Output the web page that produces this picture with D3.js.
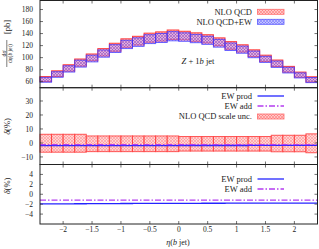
<!DOCTYPE html>
<html><head><meta charset="utf-8">
<script src="https://cdn.jsdelivr.net/npm/d3@7"></script>
<style>body{margin:0;background:#fff}svg{display:block}text{font-family:"Liberation Serif","DejaVu Serif",serif;fill:#222}</style>
</head><body>
<script>
const xEdges = [-2.4,-2.2,-2.0,-1.8,-1.6,-1.4,-1.2,-1.0,-0.8,-0.6,-0.4,-0.2,0,0.2,0.4,0.6,0.8,1.0,1.2,1.4,1.6,1.8,2.0,2.2,2.4];
const qcd = [64.5,73.5,83,92,101,109.5,118,125,129,134,136,139,137.5,135,132,127,121,116,108,99.5,91,81,72,64];
const scaleUp = [6.2,6.2,6.2,6.2,5,5,5,5,5,5,5,5,4.6,4.6,4.6,4.6,4.6,4.6,4.6,4.6,5.5,5.5,5.5,6.5];
const scaleDn = [-6.6,-6.6,-6.6,-6.6,-6.2,-6.2,-6.2,-6.2,-6.2,-6.2,-6.2,-6.2,-5.8,-5.8,-5.8,-5.8,-5.8,-5.8,-5.8,-5.8,-6.3,-6.3,-6.3,-7];
const ewProd = [-1.95,-1.95,-1.93,-1.92,-1.9,-1.9,-1.88,-1.87,-1.86,-1.85,-1.85,-1.84,-1.83,-1.83,-1.82,-1.82,-1.81,-1.81,-1.8,-1.8,-1.8,-1.8,-1.79,-1.79];
const ewAdd = [-1.2,-1.2,-1.2,-1.2,-1.2,-1.2,-1.2,-1.2,-1.2,-1.2,-1.2,-1.2,-1.2,-1.2,-1.2,-1.2,-1.2,-1.2,-1.2,-1.2,-1.2,-1.2,-1.2,-1.2];
const xTicks = [-2,-1.5,-1,-0.5,0,0.5,1,1.5,2];
const y1Ticks = [60,80,100,120,140,160,180];
const y2Ticks = [-10,0,10,20,30];
const y3Ticks = [-4,-2,0,2,4];

const W=319,H=249;
const svg=d3.select("body").append("svg").attr("width",W).attr("height",H);
const defs=svg.append("defs");
function hatch(id,bg,fg){
  const p=defs.append("pattern").attr("id",id).attr("width",3).attr("height",3).attr("patternUnits","userSpaceOnUse");
  p.append("rect").attr("width",3).attr("height",3).attr("fill",bg);
  p.append("path").attr("d","M0,0L3,3M3,0L0,3").attr("stroke",fg).attr("stroke-width",0.6);
}
hatch("red","rgba(255,180,180,0.8)","rgba(255,60,60,0.6)");
hatch("blue","rgba(170,140,255,0.35)","rgba(80,60,255,0.5)");
hatch("redL","rgba(255,200,200,1)","rgba(255,90,90,0.7)");
hatch("blueL","rgba(195,195,255,1)","rgba(80,80,255,0.65)");

const L=40,R=317.5;
const x=d3.scaleLinear().domain([-2.4,2.4]).range([L,R]);
const y1=d3.scaleLinear().domain([50,195]).range([87.7,0.5]);
const y2=d3.scaleLinear().domain([-15.4,39.5]).range([164.5,87.7]);
const y3=d3.scaleLinear().domain([-6,6]).range([224,164.5]);
const bins=qcd.map((v,i)=>({i,x0:xEdges[i],x1:xEdges[i+1],v}));

// Panel 1 bands
const g1=svg.append("g");
g1.selectAll("rect.r").data(bins).join("rect")
  .attr("x",d=>x(d.x0)).attr("width",d=>x(d.x1)-x(d.x0))
  .attr("y",d=>y1(d.v*(1+scaleUp[d.i]/100))).attr("height",d=>y1(d.v*(1+scaleDn[d.i]/100))-y1(d.v*(1+scaleUp[d.i]/100)))
  .attr("fill","url(#red)").attr("stroke","rgb(255,60,60)").attr("stroke-width",1);
g1.selectAll("rect.b").data(bins).join("rect")
  .attr("x",d=>x(d.x0)).attr("width",d=>x(d.x1)-x(d.x0))
  .attr("y",d=>y1(d.v*(1+ewProd[d.i]/100)*(1+scaleUp[d.i]/100))).attr("height",d=>y1(d.v*(1+ewProd[d.i]/100)*(1+scaleDn[d.i]/100))-y1(d.v*(1+ewProd[d.i]/100)*(1+scaleUp[d.i]/100)))
  .attr("fill","url(#blue)").attr("stroke","rgba(60,50,255,0.75)").attr("stroke-width",1);

// Panel 2 scale band + lines
const g2=svg.append("g");
g2.selectAll("rect").data(bins).join("rect")
  .attr("x",d=>x(d.x0)).attr("width",d=>x(d.x1)-x(d.x0))
  .attr("y",d=>y2(scaleUp[d.i])).attr("height",d=>y2(scaleDn[d.i])-y2(scaleUp[d.i]))
  .attr("fill","url(#redL)").attr("fill-opacity",0.8).attr("stroke","rgba(255,60,60,0.85)").attr("stroke-width",1);
function stepPath(vals,ys){
  let p="";
  vals.forEach((v,i)=>{p+=(i?"L":"M")+x(xEdges[i])+","+ys(v)+"L"+x(xEdges[i+1])+","+ys(v);});
  return p;
}
[[g2,y2],[svg.append("g"),y3]].forEach(([g,ys])=>{
  g.append("path").attr("d",stepPath(ewProd,ys)).attr("fill","none").attr("stroke","#2424ff").attr("stroke-width",1.3);
  g.append("path").attr("d",stepPath(ewAdd,ys)).attr("fill","none").attr("stroke","#b43cf0").attr("stroke-width",1.3).attr("stroke-dasharray","6,2,1.5,2");
});

// Frames and axes
const panels=[[y1,y1Ticks,0.5,87.7],[y2,y2Ticks,87.7,164.5],[y3,y3Ticks,164.5,224]];
const fmt=v=>(v<0?"\u2212":"")+Math.abs(v);
panels.forEach(([ys,ticks,t,b])=>{
  const g=svg.append("g");
  ticks.forEach(v=>{
    g.append("line").attr("x1",L).attr("x2",L+3).attr("y1",ys(v)).attr("y2",ys(v)).attr("stroke","#333").attr("stroke-width",0.7);
    g.append("line").attr("x1",R-3).attr("x2",R).attr("y1",ys(v)).attr("y2",ys(v)).attr("stroke","#333").attr("stroke-width",0.7);
    g.append("text").attr("x",33).attr("y",ys(v)+2.6).attr("text-anchor","end").attr("font-size",7.5).text(fmt(v));
  });
  xTicks.forEach(v=>{
    g.append("line").attr("x1",x(v)).attr("x2",x(v)).attr("y1",b).attr("y2",b-3).attr("stroke","#333").attr("stroke-width",0.7);
    g.append("line").attr("x1",x(v)).attr("x2",x(v)).attr("y1",t).attr("y2",t+3).attr("stroke","#333").attr("stroke-width",0.7);
  });
  g.append("rect").attr("x",L).attr("y",t).attr("width",R-L).attr("height",b-t).attr("fill","none").attr("stroke","#222").attr("stroke-width",1);
});
xTicks.forEach(v=>{
  svg.append("text").attr("x",x(v)).attr("y",232).attr("text-anchor","middle").attr("font-size",7.5).text(fmt(v));
});

// Labels
const xl=svg.append("text").attr("x",178).attr("y",245).attr("text-anchor","middle").attr("font-size",8);
xl.append("tspan").attr("font-style","italic").text("η");
xl.append("tspan").text("(");
xl.append("tspan").attr("font-style","italic").text("b");
xl.append("tspan").text(" jet)");

function rot(xp,yp,size,parts){
  const t=svg.append("text").attr("transform",`translate(${xp},${yp}) rotate(-90)`).attr("text-anchor","middle").attr("font-size",size);
  parts.forEach(([s,it])=>t.append("tspan").attr("font-style",it?"italic":"normal").text(s));
}
rot(9.5,27,8.5,[["[pb]"]]);
rot(5.5,53.5,6,[["d"],["σ",1]]);
svg.append("line").attr("x1",6.8).attr("x2",6.8).attr("y1",40).attr("y2",67).attr("stroke","#222").attr("stroke-width",0.6);
rot(11.5,53.5,5.5,[["d"],["η",1],["("],["b",1],[" jet)"]]);
rot(9.5,126.5,8.5,[["δ",1],["(%)"]]);
rot(9.5,186,8.5,[["δ",1],["(%)"]]);

const zl=svg.append("text").attr("x",198).attr("y",64).attr("text-anchor","middle").attr("font-size",8.5);
zl.append("tspan").attr("font-style","italic").text("Z");
zl.append("tspan").text(" + 1");
zl.append("tspan").attr("font-style","italic").text("b");
zl.append("tspan").text(" jet");

// Legends
function legText(y,s){svg.append("text").attr("x",252).attr("y",y+2.8).attr("text-anchor","end").attr("font-size",8.5).text(s);}
function legBox(y,fill,stroke){svg.append("rect").attr("x",257.5).attr("y",y-2.5).attr("width",26.5).attr("height",5).attr("fill",fill).attr("stroke",stroke).attr("stroke-width",0.8);}
function legLine(y,color,dash){const l=svg.append("line").attr("x1",257.5).attr("x2",284).attr("y1",y).attr("y2",y).attr("stroke",color).attr("stroke-width",1.3);if(dash)l.attr("stroke-dasharray",dash);}
legText(11.8,"NLO QCD"); legBox(11.8,"url(#redL)","rgb(255,110,110)");
legText(21.8,"NLO QCD+EW"); legBox(21.8,"url(#blueL)","rgb(90,90,255)");
legText(96,"EW prod"); legLine(96,"#2424ff");
legText(106,"EW add"); legLine(106,"#b43cf0","6,2,1.5,2");
legText(116.5,"NLO QCD scale unc."); legBox(116.5,"url(#redL)","rgb(255,110,110)");
legText(179,"EW prod"); legLine(179,"#2424ff");
legText(189,"EW add"); legLine(189,"#b43cf0","6,2,1.5,2");
</script>
</body></html>
